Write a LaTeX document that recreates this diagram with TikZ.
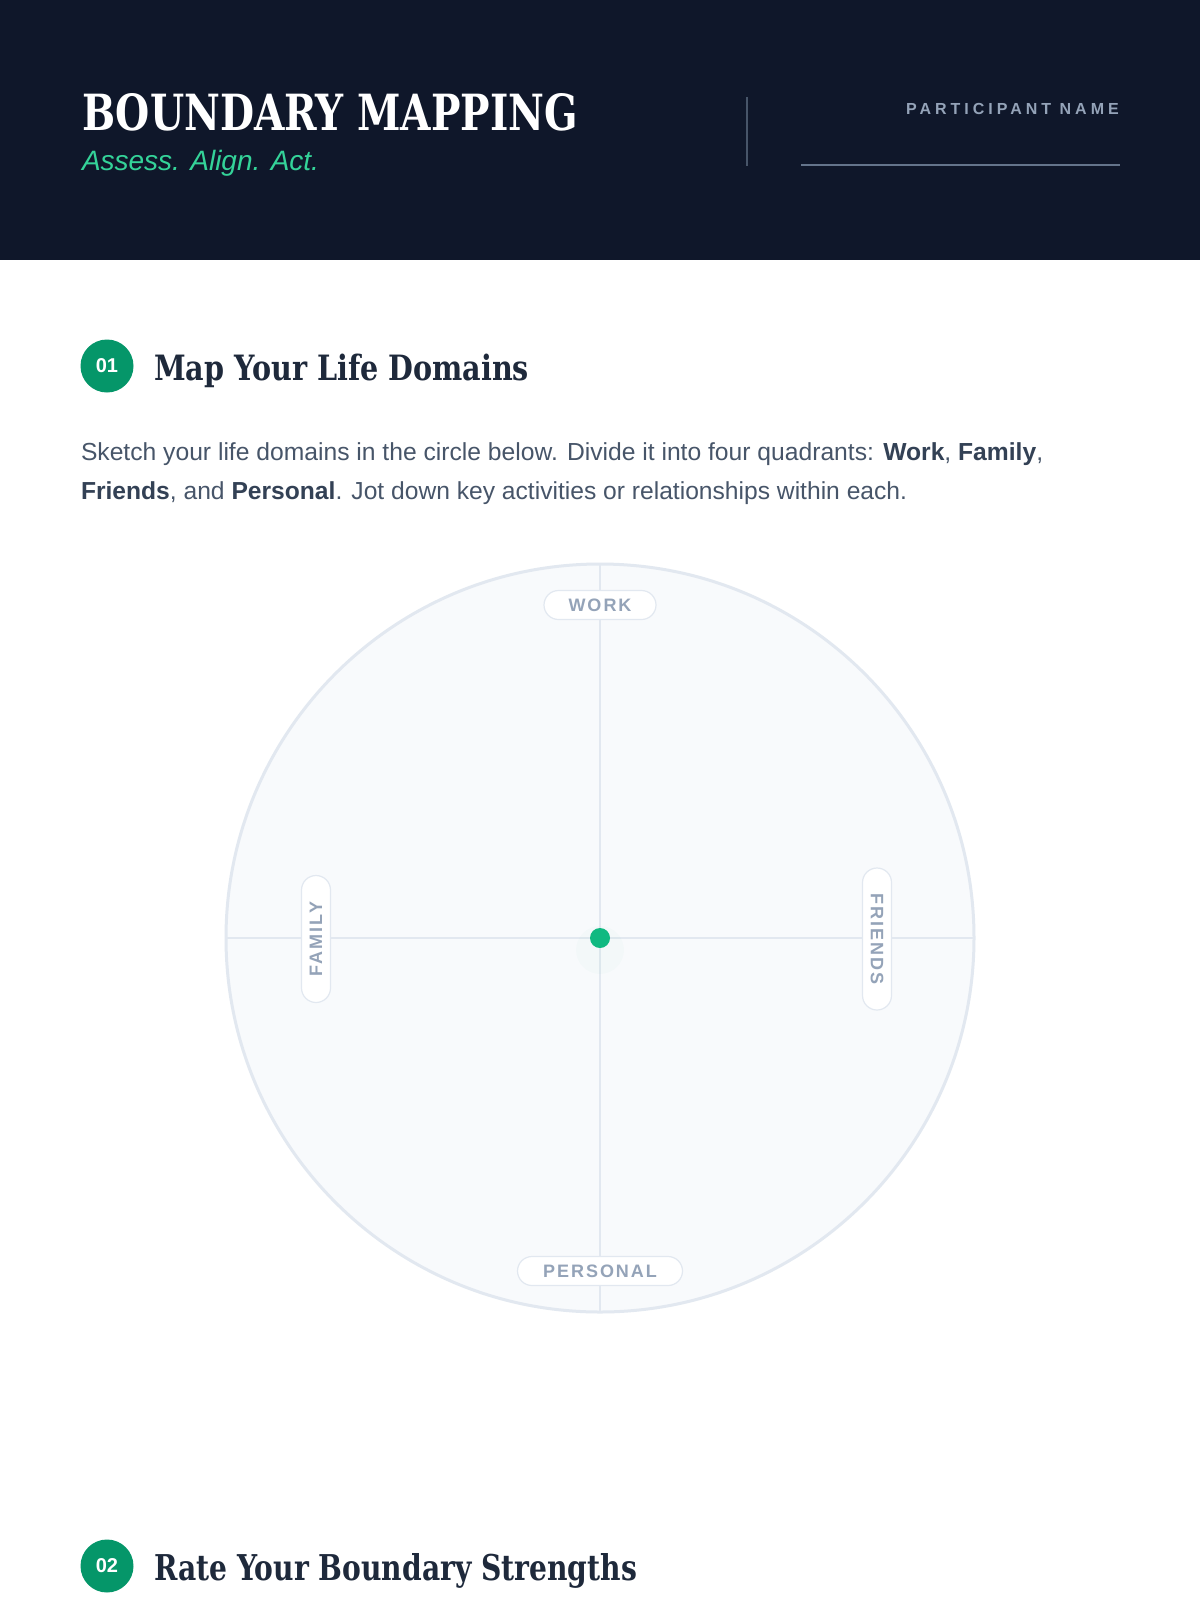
\documentclass[tikz,border=0pt]{standalone}
\usepackage{fontspec}
\usepackage{graphicx}
\setmainfont{Liberation Sans}
\newfontfamily\slabfont{DejaVu Serif}
\newfontfamily\spacedfont[LetterSpace=25]{Liberation Sans}
\newfontfamily\pillfont[LetterSpace=11]{Liberation Sans}
\definecolor{navy}{HTML}{0F172A}
\definecolor{emer}{HTML}{059669}
\definecolor{emerl}{HTML}{10B981}
\definecolor{mint}{HTML}{34D399}
\definecolor{ink}{HTML}{1E293B}
\definecolor{bodytxt}{HTML}{475569}
\definecolor{boldtxt}{HTML}{334155}
\definecolor{muted}{HTML}{94A3B8}
\definecolor{rulegray}{HTML}{64748B}
\definecolor{divgray}{HTML}{475569}
\definecolor{line200}{HTML}{E2E8F0}
\definecolor{paper}{HTML}{F8FAFC}
\tikzset{
  txt/.style={anchor=base west, inner sep=0pt, outer sep=0pt},
  numbadge/.style={circle, fill=emer, minimum size=53pt, inner sep=0pt, text=white, font=\bfseries\fontsize{20}{22}\selectfont},
  pill/.style={draw=line200, line width=1.2pt, fill=white, rounded corners=14.5pt, minimum height=29pt, inner sep=0pt, text=muted, font=\pillfont\bfseries\fontsize{18}{20}\selectfont},
  para/.style={txt, text=bodytxt}
}
\newcommand{\bw}[1]{\textcolor{boldtxt}{\bfseries #1}}
\begin{document}
\begin{tikzpicture}[x=1pt,y=-1pt]
\useasboundingbox (0,0) rectangle (1200,1600);
\fill[white] (0,0) rectangle (1200,1600);
% header
\fill[navy] (0,0) rectangle (1200,260);
\node[txt, text=white] (title) at (82,131) {\resizebox{496pt}{37pt}{\slabfont\bfseries BOUNDARY MAPPING}};
\node[txt, text=mint, font=\itshape\fontsize{28}{32}\selectfont] (subtitle) at (82,170) {Assess. Align. Act.};
\coordinate (divtop) at (747,97);
\coordinate (divbot) at (747,166);
\draw[divgray, line width=1.5pt] (divtop) -- (divbot);
\node[anchor=base east, inner sep=0pt, text=muted, font=\spacedfont\bfseries\fontsize{16}{18}\selectfont] (pname) at (1119,114) {PARTICIPANT NAME};
\coordinate (nameL) at (801,165);
\coordinate (nameR) at (1120,165);
\draw[rulegray, line width=1.5pt] (nameL) -- (nameR);
% section 1
\node[numbadge] (b1) at (107,366) {01};
\node[txt, text=ink] (h1) at (154,380) {\resizebox{375pt}{26.5pt}{\slabfont\bfseries Map Your Life Domains}};
\node[para] (p1) at (81,460) {\resizebox{962pt}{!}{Sketch your life domains in the circle below. Divide it into four quadrants: \bw{Work}, \bw{Family},}};
\node[para] (p2) at (81,499) {\resizebox{826pt}{!}{\bw{Friends}, and \bw{Personal}. Jot down key activities or relationships within each.}};
% circle
\coordinate (c) at (600,938);
\fill[paper] (c) circle (374);
\coordinate (cl) at (226,938);
\coordinate (cr) at (974,938);
\coordinate (ct) at (600,564);
\coordinate (cb) at (600,1312);
\draw[line200, line width=1.5pt] (cl) -- (cr);
\draw[line200, line width=1.5pt] (ct) -- (cb);
\draw[line200, line width=3pt] (c) circle (374);
\fill[emerl, opacity=0.02] (600,950) circle (24);
\fill[emerl] (c) circle (10);
\node[pill, minimum width=112pt] (work) at (600,605) {WORK};
\node[pill, minimum width=165pt] (personal) at (600,1271) {PERSONAL};
\node[pill, minimum width=127pt, rotate=90] (family) at (316,939) {FAMILY};
\node[pill, minimum width=142pt, rotate=-90] (friends) at (877,939) {FRIENDS};
% section 2
\node[numbadge] (b2) at (107,1566) {02};
\node[txt, text=ink] (h2) at (154,1580) {\resizebox{483pt}{27pt}{\slabfont\bfseries Rate Your Boundary Strengths}};
\end{tikzpicture}
\end{document}
